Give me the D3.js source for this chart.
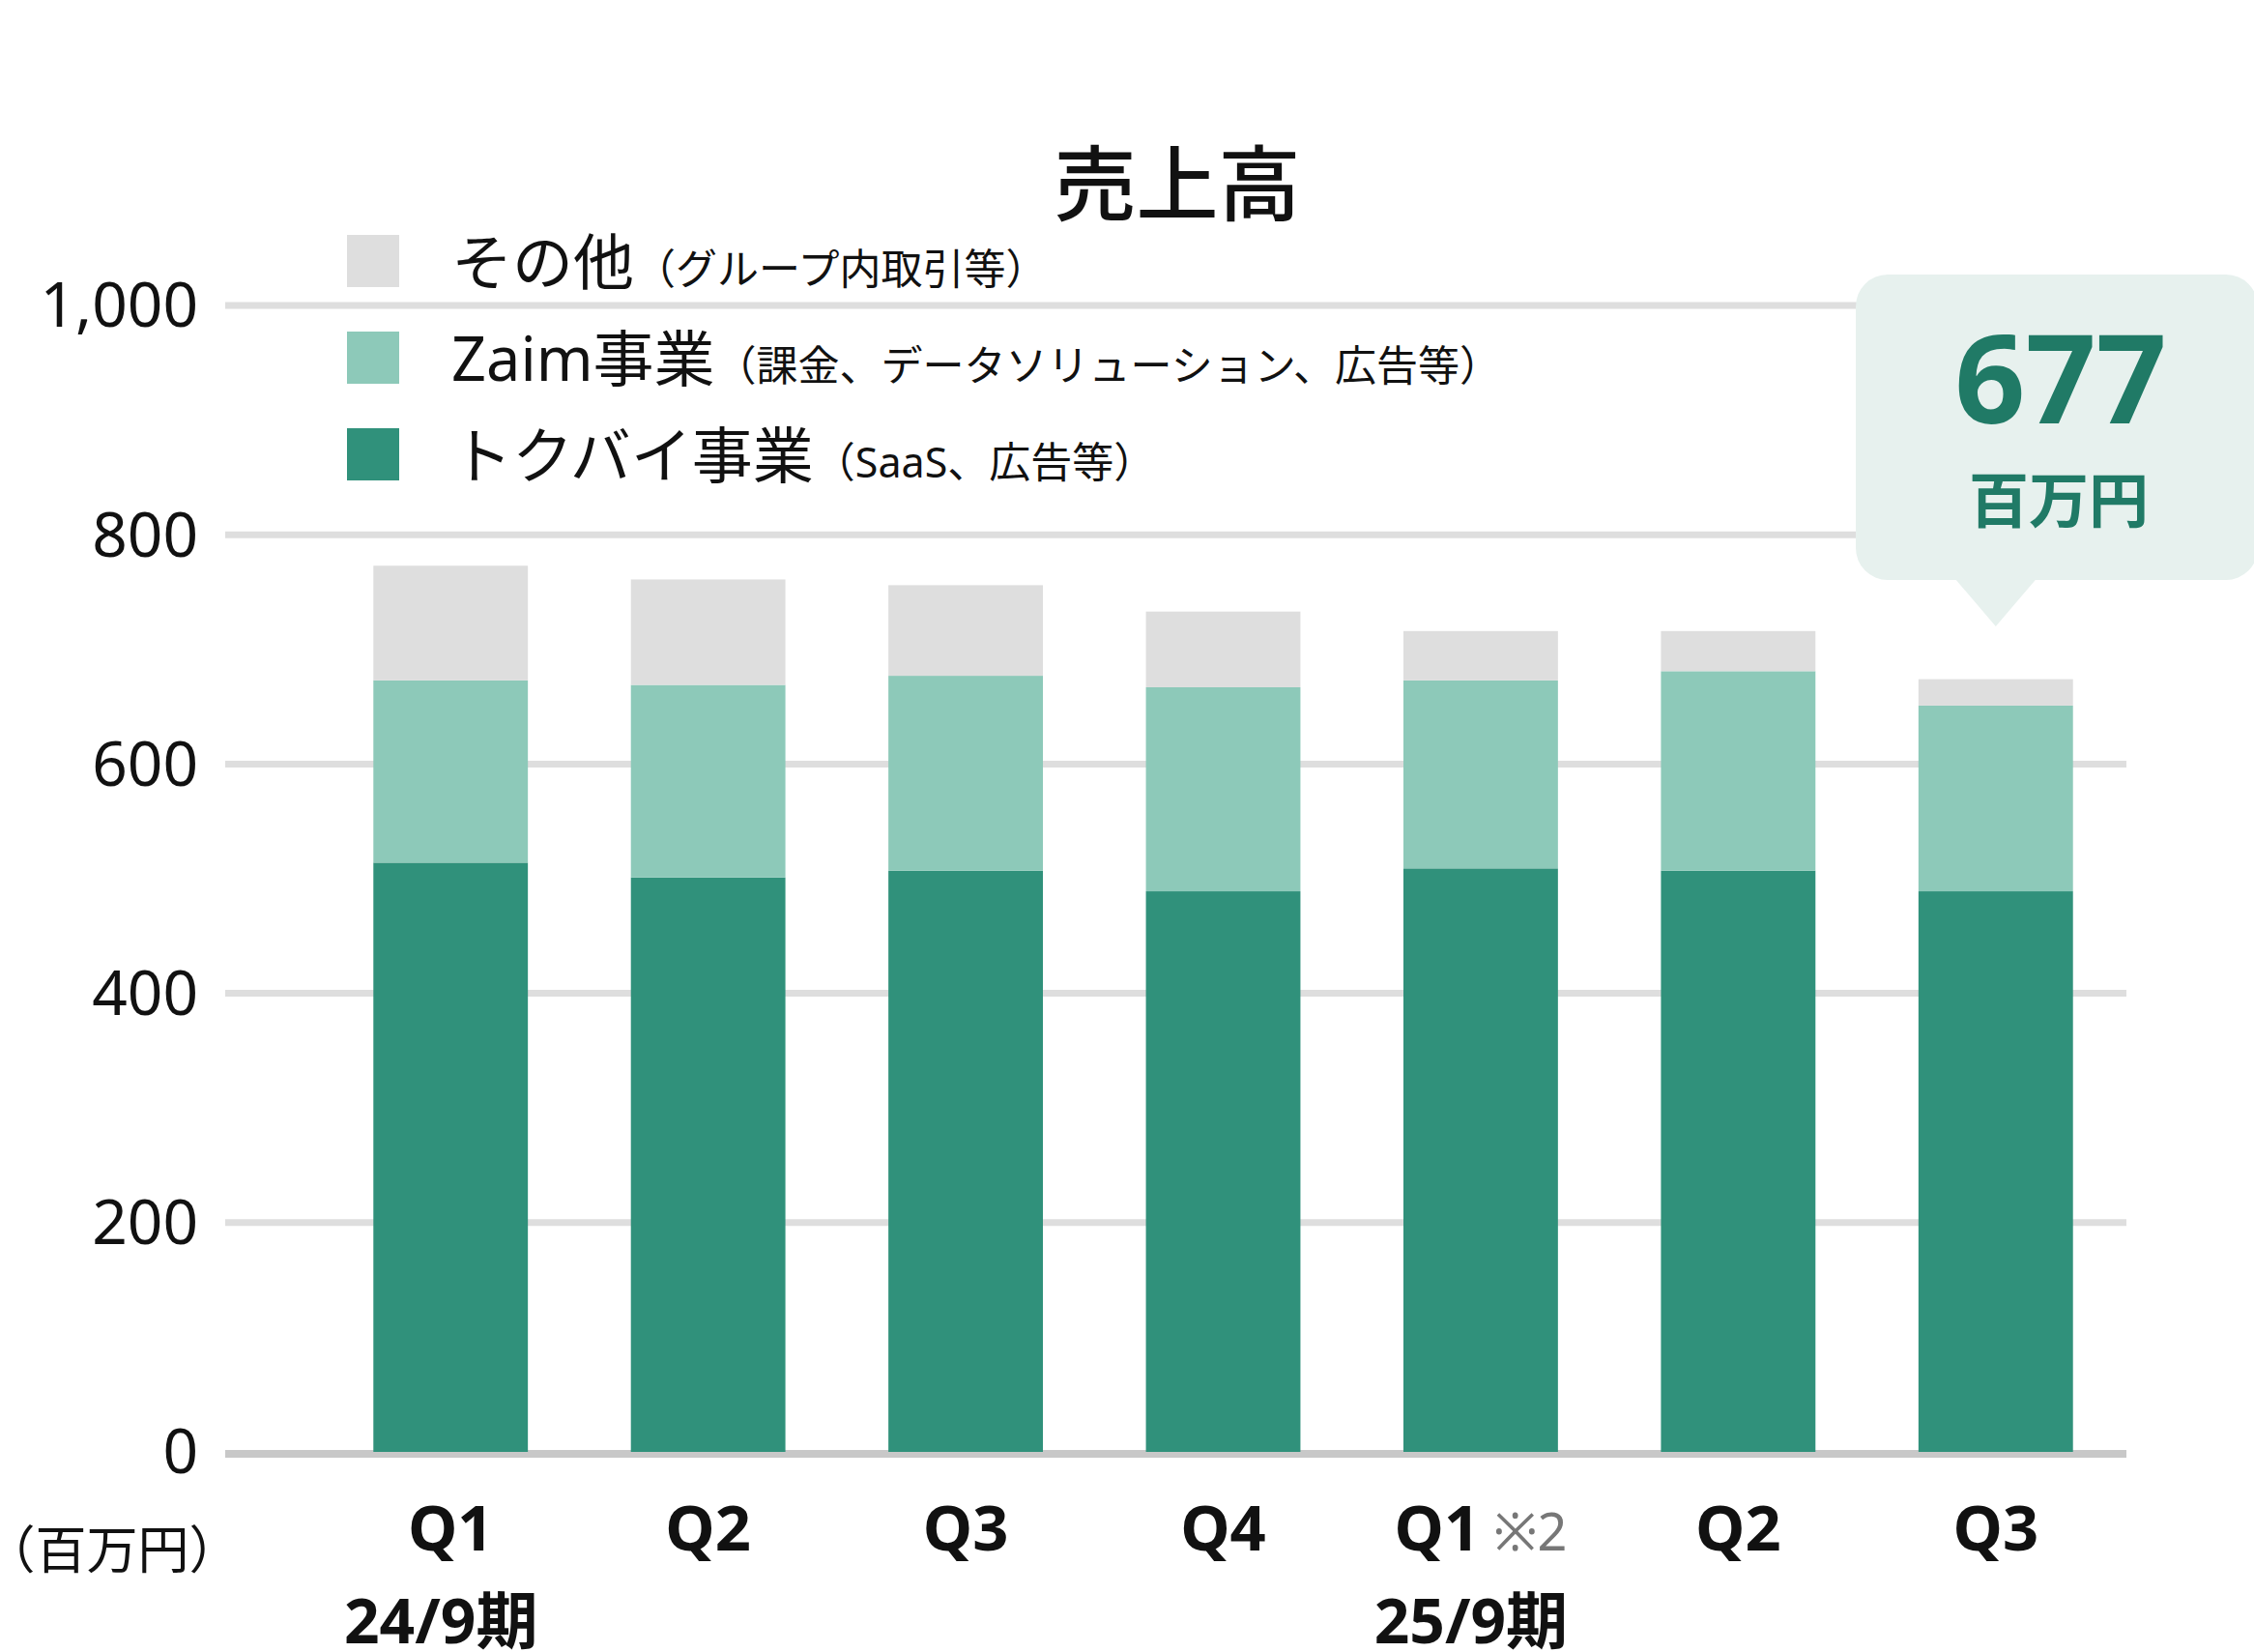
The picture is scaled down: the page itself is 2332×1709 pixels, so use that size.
<!DOCTYPE html>
<html>
<head>
<meta charset="utf-8">
<script src="https://cdn.jsdelivr.net/npm/d3@7"></script>
<style>
  body { margin: 0; background: #fff; }
  text { font-family: "Noto Sans", "Noto Sans CJK JP", sans-serif; }
</style>
</head>
<body>
<script>
// data (百万円)
var quarters = ["Q1", "Q2", "Q3", "Q4", "Q1", "Q2", "Q3"];
var notes    = ["", "", "", "", "※2", "", ""];
var tokubai  = [514, 501, 507, 489, 509, 507, 489];
var zaim     = [159, 168, 170, 178, 164, 174, 162];
var other    = [100,  92,  79,  66,  43,  35,  23];
var periods  = [{label: "24/9期", at: 0}, {label: "25/9期", at: 4}];
var yTicks   = [0, 200, 400, 600, 800, 1000];
var callout  = {value: "677", unit: "百万円", at: 6};

var seriesKeys = ["tokubai", "zaim", "other"];
var colors = {tokubai: "#30917b", zaim: "#8dc9b9", other: "#dedede"};
var legendItems = [
  {key: "other",   main: "その他",     sub: "（グループ内取引等）"},
  {key: "zaim",    main: "Zaim事業",   sub: "（課金、データソリューション、広告等）"},
  {key: "tokubai", main: "トクバイ事業", sub: "（SaaS、広告等）"}
];

var W = 2332, H = 1709;
var svg = d3.select("body").append("svg")
    .attr("width", W).attr("height", H);

var rows = quarters.map(function(q, i) {
  return {i: i, tokubai: tokubai[i], zaim: zaim[i], other: other[i]};
});

var x = d3.scaleBand().domain(d3.range(quarters.length))
    .range([333, 2198]).paddingInner(0.4).paddingOuter(0.2);
var y = d3.scaleLinear().domain([0, 1000]).range([1502, 316]);

// grid lines
svg.append("g").selectAll("line")
  .data(yTicks.filter(function(d){ return d > 0; }))
  .enter().append("line")
    .attr("x1", 233).attr("x2", 2200)
    .attr("y1", function(d){ return y(d); })
    .attr("y2", function(d){ return y(d); })
    .attr("stroke", "#dedede").attr("stroke-width", 7);

// baseline
svg.append("line")
    .attr("x1", 233).attr("x2", 2200)
    .attr("y1", y(0) + 2).attr("y2", y(0) + 2)
    .attr("stroke", "#c8c8c8").attr("stroke-width", 8);

// y tick labels
svg.append("g").selectAll("text")
  .data(yTicks).enter().append("text")
    .attr("x", 205).attr("y", function(d){ return y(d); })
    .attr("dy", "0.35em")
    .attr("text-anchor", "end")
    .style("font-size", "64px").style("fill", "#111")
    .text(function(d){ return d3.format(",")(d); });

// stacked bars
var stacked = d3.stack().keys(seriesKeys)(rows);
svg.append("g").selectAll("g")
  .data(stacked).enter().append("g")
    .attr("fill", function(s){ return colors[s.key]; })
  .selectAll("rect")
  .data(function(s){ return s; }).enter().append("rect")
    .attr("x", function(d){ return x(d.data.i); })
    .attr("width", x.bandwidth())
    .attr("y", function(d){ return y(d[1]); })
    .attr("height", function(d){ return y(d[0]) - y(d[1]); });

// x labels
var xl = svg.append("g").selectAll("text")
  .data(quarters).enter().append("text")
    .attr("x", function(d, i){ return x(i) + x.bandwidth() / 2; })
    .attr("y", 1581).attr("dy", "0.35em")
    .attr("text-anchor", "middle")
    .style("font-size", "65px").style("font-weight", "bold").style("fill", "#111");
xl.append("tspan").text(function(d){ return d; });
xl.append("tspan")
    .style("font-weight", "normal").style("fill", "#777").style("font-size", "54px")
    .text(function(d, i){ return notes[i] ? " " + notes[i] : ""; });

svg.append("g").selectAll("text")
  .data(periods).enter().append("text")
    .attr("x", function(d){ return x(d.at) + x.bandwidth() / 2 - 10; })
    .attr("y", 1678).attr("dy", "0.35em")
    .attr("text-anchor", "middle")
    .style("font-size", "64px").style("font-weight", "bold").style("fill", "#111")
    .text(function(d){ return d.label; });

svg.append("text")
    .attr("x", 116).attr("y", 1603).attr("dy", "0.38em")
    .attr("text-anchor", "middle")
    .style("font-size", "53px").style("fill", "#111")
    .text("（百万円）");

// title
svg.append("text")
    .attr("x", 1218).attr("y", 192).attr("dy", "0.35em")
    .attr("text-anchor", "middle")
    .style("font-size", "85px").style("font-weight", 500).style("fill", "#111")
    .text("売上高");

// legend
var lg = svg.append("g").selectAll("g")
  .data(legendItems).enter().append("g")
    .attr("transform", function(d, i){ return "translate(359," + (243 + i * 100) + ")"; });
lg.append("rect").attr("width", 54).attr("height", 54)
    .attr("fill", function(d){ return colors[d.key]; });
var lt = lg.append("text").attr("x", 108).attr("y", 27).attr("dy", "0.38em")
    .style("font-size", "63px").style("fill", "#111");
lt.append("tspan").text(function(d){ return d.main; });
lt.append("tspan").style("font-size", "43px").text(function(d){ return d.sub; });

// callout for latest quarter
var cx = x(callout.at) + x.bandwidth() / 2;
var bx0 = 1920, bx1 = 2336, by0 = 284, by1 = 600, r = 33;
var path = d3.path();
path.moveTo(bx0 + r, by0);
path.lineTo(bx1 - r, by0);
path.arcTo(bx1, by0, bx1, by0 + r, r);
path.lineTo(bx1, by1 - r);
path.arcTo(bx1, by1, bx1 - r, by1, r);
path.lineTo(cx + 41, by1);
path.lineTo(cx, 648);
path.lineTo(cx - 41, by1);
path.lineTo(bx0 + r, by1);
path.arcTo(bx0, by1, bx0, by1 - r, r);
path.lineTo(bx0, by0 + r);
path.arcTo(bx0, by0, bx0 + r, by0, r);
path.closePath();
svg.append("path").attr("d", path.toString()).attr("fill", "#e7f1ee");

svg.append("text")
    .attr("x", 2132).attr("y", 438)
    .attr("text-anchor", "middle")
    .style("font-size", "128px").style("font-weight", "bold").style("fill", "#207a66")
    .text(callout.value);
svg.append("text")
    .attr("x", 2130).attr("y", 519).attr("dy", "0.35em")
    .attr("text-anchor", "middle")
    .style("font-size", "62px").style("font-weight", "bold").style("fill", "#207a66")
    .text(callout.unit);
</script>
</body>
</html>
